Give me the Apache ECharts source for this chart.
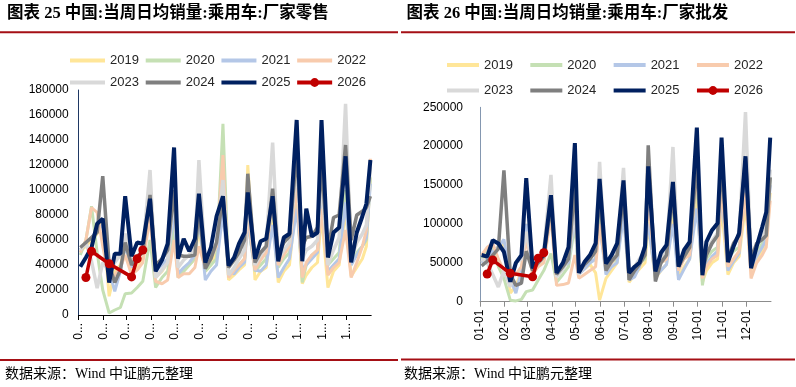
<!DOCTYPE html>
<html><head><meta charset="utf-8">
<script src="https://cdn.jsdelivr.net/npm/echarts@6/dist/echarts.min.js"></script>
<style>html,body{margin:0;padding:0;background:#fff}#c{width:796px;height:387px}</style>
</head><body><div id="c"></div>
<script>
// ---------- DATA ----------
const years = ['2019','2020','2021','2022','2023','2024','2025','2026'];
const weekDates = [
 '01-03','01-10','01-17','01-24','01-31',
 '02-08','02-15','02-22','02-28',
 '03-08','03-15','03-22','03-31',
 '04-07','04-15','04-22','04-30',
 '05-05','05-12','05-19','05-26','05-31',
 '06-08','06-15','06-22','06-30',
 '07-07','07-14','07-20','07-27','07-31',
 '08-09','08-16','08-23','08-31',
 '09-07','09-14','09-21','09-30',
 '10-07','10-12','10-19','10-26','10-31',
 '11-08','11-15','11-22','11-30',
 '12-07','12-14','12-21','12-26','12-31'];
const dates2026 = ['01-10','01-17','02-08','03-08','03-15','03-22'];

// 厂家零售 (left)
const retail2019 = [51000,55000,60000,65000,75000, 15000,35000,40000,55000, 35000,38000,45000,85000, 30000,35000,42000,75000, 32000,35000,40000,45000,70000, 35000,40000,50000,100000, 28000,32000,36000,40000,120000, 28000,35000,38000,80000, 26000,35000,40000,95000, 25000,32000,38000,42000,80000, 22000,35000,40000,85000, 31000,38000,45000,55000,110000];
const retail2020 = [48000,60000,87000,50000,20000, 1600,4000,6000,17000, 17600,22000,27000,60000, 22000,30000,35000,70000, 30000,35000,40000,45000,80000, 35000,40000,45000,153000, 34000,36000,40000,45000,75000, 35000,40000,45000,90000, 38000,45000,50000,100000, 26000,40000,48000,52000,95000, 40000,45000,50000,100000, 40000,50000,55000,60000,110000];
const retail2021 = [52000,58000,62000,68000,72000, 35000,19000,35000,55000, 38000,45000,50000,85000, 35000,40000,45000,82000, 33000,38000,42000,48000,80000, 28000,35000,40000,82000, 34000,33000,38000,42000,75000, 36000,35000,40000,72000, 30000,38000,45000,85000, 37000,40000,45000,50000,88000, 35000,40000,45000,90000, 40000,48000,55000,62000,105000];
const retail2022 = [50000,60000,86000,82000,55000, 28000,32000,38000,48000, 32000,36000,42000,78000, 27000,25000,28000,60000, 30000,33000,33000,38000,55000, 38000,46000,55000,128000, 30000,36000,40000,45000,80000, 36000,44000,50000,92000, 40000,48000,55000,102000, 30000,42000,48000,52000,85000, 32000,38000,42000,68000, 30000,42000,55000,68000,125000];
const retail2023 = [52000,58000,43000,21500,42000, 35000,42000,48000,65000, 42000,47000,52000,116000, 30000,36000,42000,100000, 38000,44000,48000,55000,124000, 40000,46000,58000,108000, 32000,38000,45000,52000,92000, 40000,48000,55000,138000, 45000,52000,58000,122000, 45000,52000,55000,60000,110000, 40000,52000,62000,169000, 45000,58000,65000,72000,118000];
const retail2024 = [54000,58000,62000,66000,111000, 40000,26000,36000,58000, 40000,47000,50000,96000, 40000,45000,52000,100000, 48000,47000,47000,48000,85000, 37000,45000,58000,95000, 38000,44000,50000,60000,113000, 42000,50000,55000,101000, 48000,58000,63000,130000, 55000,62000,63000,70000,120000, 52000,78000,80000,136000, 60000,80000,83000,86000,95000];
const retail2025 = [38600,46000,54000,73000,77000, 26000,49000,49000,95000, 47000,58000,57000,93000, 35000,44000,57000,134000, 45000,61000,51000,61000,97000, 42000,54000,79000,95000, 39500,46000,57000,66000,98000, 45000,59000,61000,95000, 43000,62000,65000,156000, 43000,85000,63000,66000,156000, 46000,66000,70000,127000, 42000,66000,79000,89000,124000];
const retail2026 = [30000,51000,41000,30500,45000,52000];

// 厂家批发 (right)
const whole2019 = [50000,58000,65000,70000,75000, 11000,20000,40000,100000, 40000,48000,55000,125000, 35000,45000,50000,110000, 37000,42000,48000,37000,2000, 30000,40000,50000,120000, 25000,35000,42000,50000,100000, 30000,40000,48000,110000, 32000,45000,55000,140000, 25000,40000,50000,55000,120000, 35000,50000,58000,125000, 40000,55000,65000,75000,140000];
const whole2020 = [55000,65000,70000,45000,30000, 2000,1000,3000,13000, 15000,28000,40000,62000, 25000,35000,45000,100000, 35000,45000,50000,55000,120000, 40000,50000,55000,130000, 30000,40000,50000,55000,120000, 40000,50000,55000,130000, 45000,55000,65000,160000, 21000,55000,65000,70000,150000, 55000,65000,70000,160000, 50000,65000,75000,80000,160000];
const whole2021 = [50000,55000,65000,70000,80000, 30000,11000,40000,100000, 40000,50000,55000,120000, 35000,45000,50000,110000, 35000,42000,50000,55000,100000, 35000,45000,50000,110000, 28000,32000,45000,75000,100000, 32000,40000,48000,100000, 28000,42000,55000,120000, 35000,48000,58000,65000,140000, 40000,52000,62000,150000, 45000,58000,70000,80000,150000];
const whole2022 = [60000,70000,75000,55000,40000, 30000,35000,45000,80000, 35000,45000,50000,110000, 21000,22000,24000,60000, 30000,35000,40000,45000,100000, 40000,50000,60000,150000, 35000,45000,50000,60000,130000, 40000,50000,55000,140000, 40000,55000,60000,170000, 30000,45000,55000,60000,150000, 45000,55000,65000,140000, 30000,50000,60000,70000,130000];
const whole2023 = [55000,50000,35000,19000,40000, 19000,50000,55000,90000, 45000,55000,65000,163000, 32000,42000,55000,120000, 35000,48000,60000,70000,180000, 40000,55000,70000,172000, 35000,45000,55000,65000,165000, 40000,55000,65000,199000, 45000,60000,72000,190000, 45000,65000,78000,88000,195000, 55000,72000,85000,244000, 50000,70000,85000,95000,170000];
const whole2024 = [46000,52000,60000,68000,169000, 35000,21000,24000,65000, 40000,50000,58000,125000, 35000,45000,55000,150000, 38000,48000,55000,65000,140000, 40000,52000,60000,140000, 28000,40000,48000,60000,201000, 26000,50000,60000,140000, 45000,58000,70000,180000, 38000,60000,75000,85000,180000, 55000,75000,85000,185000, 55000,75000,80000,85000,160000];
const whole2025 = [60000,58000,79000,75000,64000, 25700,50000,60000,159000, 43000,54000,60000,137000, 37000,50000,70000,204000, 37000,51000,60000,75000,158000, 49000,60000,75000,156000, 37000,45000,50000,71000,174000, 39000,63000,73000,154000, 45000,66500,77000,224000, 34000,77000,92000,101000,211000, 51000,71000,88000,187000, 43000,71000,96000,115000,211000];
const whole2026 = [35600,53600,36500,32000,56000,63000];

const retailTicks = [0,20000,40000,60000,80000,100000,120000,140000,160000,180000];
const wholeTicks = [0,50000,100000,150000,200000,250000];

// ---------- STYLE ----------
const colors = {'2019':'#FFE699','2020':'#C5E0B4','2021':'#B4C7E7','2022':'#F8CBAD','2023':'#D9D9D9','2024':'#7F7F7F','2025':'#002060','2026':'#C00000'};
const widths = {'2019':3,'2020':3,'2021':3,'2022':3,'2023':3.5,'2024':3.5,'2025':4,'2026':3.5};
const FONT = "'Liberation Sans', Arial, sans-serif";
const MIX = "'Liberation Serif', 'Noto Sans CJK SC', serif";

const retail = [retail2019,retail2020,retail2021,retail2022,retail2023,retail2024,retail2025,retail2026];
const whole = [whole2019,whole2020,whole2021,whole2022,whole2023,whole2024,whole2025,whole2026];

function mkSeries(arrs, gi) {
  return years.map((y, k) => {
    const dts = (y === '2026') ? dates2026 : weekDates;
    const is26 = y === '2026';
    return {
      name: y, type: 'line', xAxisIndex: gi, yAxisIndex: gi,
      data: dts.map((d, i) => ['2025-' + d, arrs[k][i]]),
      symbol: is26 ? 'circle' : 'none', symbolSize: 9, showSymbol: is26,
      lineStyle: {color: colors[y], width: widths[y]},
      itemStyle: {color: colors[y]},
      z: 2 + k, silent: true
    };
  });
}

function monthLabel(v) {
  const d = new Date(v);
  if (d.getFullYear() !== 2025) return '';
  const m = d.getMonth() + 1;
  return (m < 10 ? '0' : '') + m + '-01';
}

function xAxis(gi, color, fmt) {
  return {
    type: 'time', gridIndex: gi, min: '2025-01-01', max: '2026-01-01',
    splitNumber: 12, minInterval: 28 * 864e5, maxInterval: 31 * 864e5,
    axisLine: {lineStyle: {color: color, width: 1}},
    axisTick: {show: true, length: 5, lineStyle: {color: color}},
    splitLine: {show: false},
    axisLabel: {rotate: 90, margin: 8, fontSize: 12, color: '#000', fontFamily: FONT, formatter: fmt, hideOverlap: false}
  };
}
function yAxis(gi, ticks, color, margin) {
  return {
    type: 'value', gridIndex: gi, min: ticks[0], max: ticks[ticks.length - 1], interval: ticks[1] - ticks[0],
    axisLine: {show: true, lineStyle: {color: color, width: 1}},
    axisTick: {show: false}, splitLine: {show: false},
    axisLabel: {fontSize: 12, color: '#000', fontFamily: FONT, margin: margin, formatter: v => String(v)}
  };
}
function legend(names, left, top, iw, gap) {
  return {
    data: names.map(n => n === '2026'
      ? {name: n, itemStyle: {color: colors[n]}}
      : {name: n, itemStyle: {opacity: 0, color: 'rgba(0,0,0,0)', borderWidth: 0}}),
    left: left, top: top, orient: 'horizontal', padding: 0,
    itemWidth: iw, itemHeight: 11, itemGap: gap,
    lineStyle: {width: 4},
    textStyle: {fontSize: 13, color: '#262626', fontFamily: FONT}, selectedMode: false};
}

const chart = echarts.init(document.getElementById('c'), null, {renderer: 'canvas'});
chart.setOption({
  animation: false,
  backgroundColor: '#fff',
  grid: [
    {left: 78.7, top: 90, width: 292.5, height: 225},
    {left: 480, top: 107.3, width: 291, height: 194.4}
  ],
  xAxis: [
    xAxis(0, '#000', v => { const s = monthLabel(v); return s ? s.charAt(0) + '...' : ''; }),
    xAxis(1, '#8C8C8C', monthLabel)
  ],
  yAxis: [yAxis(0, retailTicks, '#1F3864', 10), yAxis(1, wholeTicks, '#8497B0', 17)],
  legend: [
    legend(years.slice(0, 4), 68, 54, 35, 4.8),
    legend(years.slice(4), 68, 76, 35, 4.8),
    legend(years.slice(0, 4), 445, 58.5, 32, 15.4),
    legend(years.slice(4), 445, 84, 32, 15.4)
  ],
  series: mkSeries(retail, 0).concat(mkSeries(whole, 1)),
  graphic: [
    {type: 'text', left: 7, top: 5, style: {text: '图表 25 中国:当周日均销量:乘用车:厂家零售', fontSize: 16.5, fontWeight: 'bold', fontFamily: MIX, fill: '#000'}},
    {type: 'text', left: 406.5, top: 5, style: {text: '图表 26 中国:当周日均销量:乘用车:厂家批发', fontSize: 16.5, fontWeight: 'bold', fontFamily: MIX, fill: '#000'}},
    {type: 'rect', shape: {x: 0, y: 31.3, width: 398, height: 2}, style: {fill: '#A50F15'}},
    {type: 'rect', shape: {x: 401, y: 31.3, width: 394, height: 2}, style: {fill: '#A50F15'}},
    {type: 'rect', shape: {x: 0, y: 359, width: 398, height: 2}, style: {fill: '#A50F15'}},
    {type: 'rect', shape: {x: 401, y: 358.5, width: 394, height: 2}, style: {fill: '#A50F15'}},
    {type: 'text', left: 5, top: 367, style: {text: '数据来源：Wind 中证鹏元整理', fontSize: 14, fontFamily: MIX, fill: '#000'}},
    {type: 'text', left: 404, top: 367, style: {text: '数据来源：Wind 中证鹏元整理', fontSize: 14, fontFamily: MIX, fill: '#000'}}
  ]
});
</script>
</body></html>
